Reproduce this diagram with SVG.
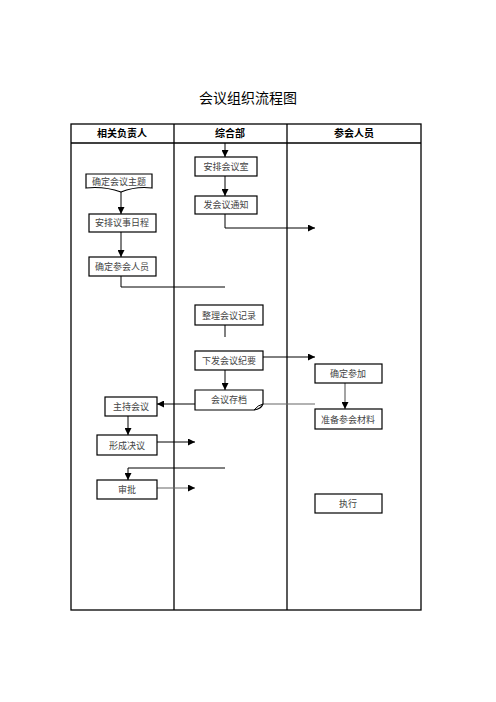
<svg xmlns="http://www.w3.org/2000/svg" width="496" height="702" viewBox="0 0 496 702">
<style>
.grid{fill:none;stroke:#000;stroke-width:1.3}
.box{fill:#fff;stroke:#000;stroke-width:1.2}
.ln{fill:none;stroke:#000;stroke-width:1}
.gl{fill:none;stroke:#666;stroke-width:1.2}
.t{font-family:"Noto Sans CJK SC","Liberation Sans",sans-serif;font-size:9px;fill:#444;text-anchor:middle}
.h{font-family:"Noto Sans CJK SC","Liberation Sans",sans-serif;font-size:10px;font-weight:bold;fill:#000;text-anchor:middle}
.title{font-family:"Noto Sans CJK SC","Liberation Sans",sans-serif;font-size:14px;fill:#000;text-anchor:middle}
</style>
<defs>
<marker id="ar" viewBox="0 0 10 10" refX="10" refY="5" markerWidth="7" markerHeight="7" markerUnits="userSpaceOnUse" orient="auto">
<path d="M0,0 L10,5 L0,10 Z" fill="#000"/>
</marker>
</defs>
<rect width="496" height="702" fill="#fff"/>
<text class="title" x="248" y="103">会议组织流程图</text>
<g id="table">
<rect class="grid" x="71" y="124" width="350" height="486"/>
<line class="grid" x1="71" y1="143" x2="421" y2="143"/>
<line class="grid" x1="174" y1="124" x2="174" y2="610"/>
<line class="grid" x1="287" y1="124" x2="287" y2="610"/>
<text class="h" x="122" y="137">相关负责人</text>
<text class="h" x="230" y="137">综合部</text>
<text class="h" x="354" y="137">参会人员</text>
</g>
<g id="connectors">
<line class="ln" x1="225" y1="143" x2="225" y2="157" marker-end="url(#ar)"/>
<line class="ln" x1="121" y1="192" x2="121" y2="214" marker-end="url(#ar)"/>
<line class="ln" x1="121" y1="232" x2="121" y2="257" marker-end="url(#ar)"/>
<polyline class="ln" points="121,276 121,287 225,287"/>
<line class="ln" x1="225" y1="176" x2="225" y2="196" marker-end="url(#ar)"/>
<polyline class="ln" points="225,214 225,228 315,228" marker-end="url(#ar)"/>
<line class="ln" x1="225" y1="325" x2="225" y2="337"/>
<line class="ln" x1="263" y1="357" x2="315" y2="357" marker-end="url(#ar)"/>
<line class="ln" x1="225" y1="370" x2="225" y2="390" marker-end="url(#ar)"/>
<line class="ln" x1="195" y1="404" x2="157" y2="404" marker-end="url(#ar)"/>
<line class="gl" x1="263" y1="404" x2="315" y2="404"/>
<line class="gl" x1="345" y1="383" x2="345" y2="409" marker-end="url(#ar)"/>
<line class="ln" x1="128" y1="416" x2="128" y2="435" marker-end="url(#ar)"/>
<line class="ln" x1="157" y1="442" x2="195" y2="442" marker-end="url(#ar)"/>
<polyline class="ln" points="225,468 128,468 128,480" marker-end="url(#ar)"/>
<line class="gl" x1="157" y1="488" x2="195" y2="488" stroke-width="1.6" marker-end="url(#ar)"/>
</g>
<g id="n1"><path class="box" d="M86,174 H152 V188 Q136,186 121,192 Q104,186 86,188 Z"/><text class="t" x="119" y="185">确定会议主题</text></g>
<g id="n2"><rect class="box" x="89" y="214" width="67" height="18"/><text class="t" x="122" y="226">安排议事日程</text></g>
<g id="n3"><rect class="box" x="89" y="257" width="67" height="19"/><text class="t" x="122" y="270">确定参会人员</text></g>
<g id="n4"><rect class="box" x="195" y="157" width="62" height="19"/><text class="t" x="226" y="170">安排会议室</text></g>
<g id="n5"><rect class="box" x="195" y="196" width="62" height="18"/><text class="t" x="226" y="208">发会议通知</text></g>
<g id="n6"><rect class="box" x="195" y="305" width="68" height="20"/><text class="t" x="229" y="319">整理会议记录</text></g>
<g id="n7"><rect class="box" x="195" y="351" width="68" height="19"/><text class="t" x="229" y="364">下发会议纪要</text></g>
<g id="n8"><path class="box" d="M195,390 H263 V404 Q261,409 254,410 H195 Z" stroke="#666"/><path class="ln" d="M254,410 Q258,405 263,404"/><text class="t" x="229" y="403">会议存档</text></g>
<g id="n9"><rect class="box" x="105" y="397" width="52" height="19"/><text class="t" x="131" y="410">主持会议</text></g>
<g id="n10"><rect class="box" x="97" y="435" width="60" height="20"/><text class="t" x="127" y="449">形成决议</text></g>
<g id="n11"><rect class="box" x="97" y="480" width="60" height="19"/><text class="t" x="127" y="493">审批</text></g>
<g id="n12"><rect class="box" x="315" y="364" width="67" height="19"/><text class="t" x="348" y="377">确定参加</text></g>
<g id="n13"><rect class="box" x="315" y="409" width="67" height="20"/><text class="t" x="348" y="423">准备参会材料</text></g>
<g id="n14"><rect class="box" x="315" y="494" width="67" height="19"/><text class="t" x="348" y="507">执行</text></g>
</svg>
